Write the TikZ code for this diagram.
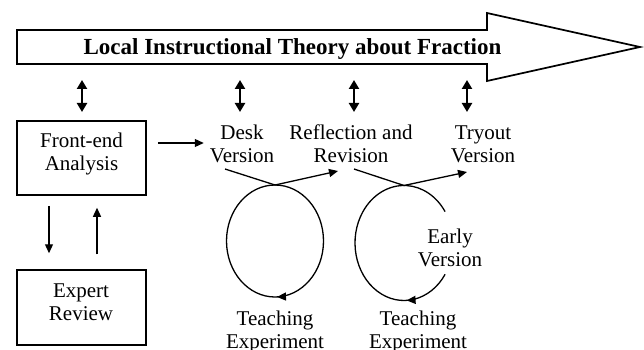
\documentclass[tikz,border=0pt]{standalone}
\usepackage{fontspec}
\setmainfont{Liberation Serif}
\usetikzlibrary{arrows.meta,decorations.markings}
\begin{document}
\begin{tikzpicture}[x=1pt,y=-1pt,
  lbl/.style={font=\fontsize{21}{23}\selectfont, align=center, inner sep=0pt, anchor=base},
  boxx/.style={draw, line width=1.5pt, inner sep=0pt},
  tip/.style={-{Triangle[length=9pt,width=8pt]}},
  arr/.style={line width=1.3pt, tip},
  dbl/.style={line width=2.2pt, {Triangle[length=9pt,width=10pt]}-{Triangle[length=9pt,width=10pt]}},
  ln/.style={line width=1.3pt},
  loopmark/.style={postaction={decorate}, decoration={markings, mark=at position #1 with {\arrow{Triangle[length=9pt,width=8pt]}}}}
]
\useasboundingbox (0,0) rectangle (644,350);
% big arrow
\draw[line width=1.7pt, line join=miter] (17,30) -- (487,30) -- (487,13) -- (640,47) -- (487,81) -- (487,64) -- (17,64) -- cycle;
\node[font=\fontsize{23}{27}\selectfont\bfseries, anchor=base, inner sep=0pt] (title) at (292.5,55) {Local Instructional Theory about Fraction};
% boxes
\node[boxx, minimum width=129pt, minimum height=74pt] (fea) at (81.5,158) {};
\node[boxx, minimum width=129pt, minimum height=75pt] (er) at (81.5,307.5) {};
% labels (anchor at baseline of last line)
\node[lbl] (featxt) at (81.5,170) {Front-end\\Analysis};
\node[lbl] (ertxt) at (81,320) {Expert\\Review};
\node[lbl] (desk) at (242,162) {Desk\\Version};
\node[lbl] (refl) at (351,162) {Reflection and\\Revision};
\node[lbl] (tryout) at (483,162) {Tryout\\Version};
\node[lbl] (early) at (450,266) {Early\\Version};
\node[lbl] (te1) at (275,348) {Teaching\\Experiment};
\node[lbl] (te2) at (418,348) {Teaching\\Experiment};
% double arrows
\foreach \n/\x in {a/82,b/240,c/354,d/467}{
  \coordinate (\n top) at (\x,80);
  \coordinate (\n bot) at (\x,112);
  \draw[dbl] (\n top) -- (\n bot);
}
% arrows around boxes
\draw[arr] ([xshift=11pt,yshift=15pt]fea.east) -- ++(46,0);
\draw[arr] ([xshift=-32.5pt,yshift=-10pt]fea.south) -- ([xshift=-32.5pt,yshift=16pt]er.north);
\draw[arr] ([xshift=15.5pt,yshift=15pt]er.north) -- ([xshift=15.5pt,yshift=-12pt]fea.south);
% loop 1
\coordinate (c1) at (275,185);
\coordinate (d1) at (225,169);
\coordinate (r1) at (338,171);
\draw[ln, loopmark=0.494] (c1) arc[start angle=270, end angle=630, x radius=48.5, y radius=56];
\draw[ln] (d1) -- (c1);
\draw[arr] (c1) -- (r1);
% loop 2
\coordinate (c2) at (404,185.5);
\coordinate (d2) at (354,169);
\coordinate (r2) at (467,172);
\coordinate (s2) at (445.1,274.3);
\draw[ln, loopmark=0.18] (s2) arc[start angle=33, end angle=327, x radius=49, y radius=57.5];
\draw[ln] (d2) -- (c2);
\draw[arr] (c2) -- (r2);
\end{tikzpicture}
\end{document}
